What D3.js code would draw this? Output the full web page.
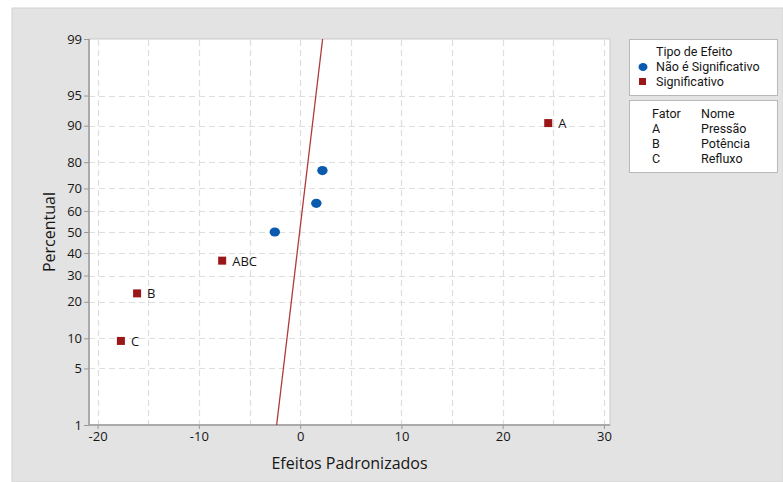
<!DOCTYPE html>
<html>
<head>
<meta charset="utf-8">
<script src="https://cdn.jsdelivr.net/npm/d3@7"></script>
<style>
  html, body { margin: 0; padding: 0; background: #ffffff; }
  svg { display: block; font-family: "Open Sans", "Noto Sans", sans-serif; }
</style>
</head>
<body>
<svg id="chart" width="783" height="482"></svg>
<script>
// Standardized effects (normal probability plot)
const effectNames = ["C", "B", "ABC", "AC", "BC", "AB", "A"];
const effectValues = [-17.7, -16.1, -7.7, -2.5, 1.6, 2.2, 24.5];
const effectPercents = [9.46, 22.97, 36.49, 50.0, 63.51, 77.03, 90.54];
const effectSignificant = [true, true, true, false, false, false, true];

// Reference line endpoints (effect, percent)
const refEffects = [-2.32, 2.22];
const refPercents = [1, 99];

const xTicks = [-20, -10, 0, 10, 20, 30];
const xGrid = [-20, -15, -10, -5, 0, 5, 10, 15, 20, 25, 30];
const yTicks = [1, 5, 10, 20, 30, 40, 50, 60, 70, 80, 90, 95, 99];

const legendTitle = "Tipo de Efeito";
const legendTypes = ["Não é Significativo", "Significativo"];
const factorHeader = ["Fator", "Nome"];
const factorLetters = ["A", "B", "C"];
const factorNames = ["Pressão", "Potência", "Refluxo"];

// Inverse standard normal CDF (Acklam's approximation)
function probit(p) {
  const a = [-3.969683028665376e+01, 2.209460984245205e+02, -2.759285104469687e+02,
             1.383577518672690e+02, -3.066479806614716e+01, 2.506628277459239e+00];
  const b = [-5.447609879822406e+01, 1.615858368580409e+02, -1.556989798598866e+02,
             6.680131188771972e+01, -1.328068155288572e+01];
  const c = [-7.784894002430293e-03, -3.223964580411365e-01, -2.400758277161838e+00,
             -2.549732539343734e+00, 4.374664141464968e+00, 2.938163982698783e+00];
  const d = [7.784695709041462e-03, 3.224671290700398e-01, 2.445134137142996e+00,
             3.754408661907416e+00];
  const pl = 0.02425, ph = 1 - pl;
  let q, r;
  if (p < pl) {
    q = Math.sqrt(-2 * Math.log(p));
    return (((((c[0]*q+c[1])*q+c[2])*q+c[3])*q+c[4])*q+c[5]) /
           ((((d[0]*q+d[1])*q+d[2])*q+d[3])*q+1);
  } else if (p <= ph) {
    q = p - 0.5; r = q*q;
    return (((((a[0]*r+a[1])*r+a[2])*r+a[3])*r+a[4])*r+a[5])*q /
           (((((b[0]*r+b[1])*r+b[2])*r+b[3])*r+b[4])*r+1);
  } else {
    q = Math.sqrt(-2 * Math.log(1 - p));
    return -(((((c[0]*q+c[1])*q+c[2])*q+c[3])*q+c[4])*q+c[5]) /
            ((((d[0]*q+d[1])*q+d[2])*q+d[3])*q+1);
  }
}

const svg = d3.select("#chart");
const ink = "#161616";

// outer panel
svg.append("rect").attr("x", 12).attr("y", 8).attr("width", 771).attr("height", 474)
  .attr("fill", "#e3e3e3").attr("stroke", "#d4d4d4").attr("stroke-width", 1);

const plot = { left: 89, right: 610, top: 39, bottom: 425 };

const x = d3.scaleLinear().domain([-20.85, 30.6]).range([plot.left, plot.right]);
const zScale = d3.scaleLinear().domain([probit(0.01), probit(0.99)]).range([plot.bottom, plot.top]);
const y = pct => zScale(probit(pct / 100));

// plot background
svg.append("rect").attr("x", plot.left).attr("y", plot.top)
  .attr("width", plot.right - plot.left).attr("height", plot.bottom - plot.top)
  .attr("fill", "#ffffff").attr("stroke", "#c8c8c8");

// grid
const grid = svg.append("g").attr("stroke", "#dedede").attr("stroke-width", 1.2)
  .attr("stroke-dasharray", "6,4");
grid.selectAll("line.v").data(xGrid).join("line")
  .attr("x1", d => Math.round(x(d)) + 0.5).attr("x2", d => Math.round(x(d)) + 0.5)
  .attr("y1", plot.top + 1).attr("y2", plot.bottom);
grid.selectAll("line.h").data(yTicks.filter(t => t !== 1 && t !== 99)).join("line")
  .attr("y1", d => Math.round(y(d)) + 0.5).attr("y2", d => Math.round(y(d)) + 0.5)
  .attr("x1", plot.left).attr("x2", plot.right - 1);

// axes
const xAxis = d3.axisBottom(x).tickValues(xTicks).tickSize(4).tickPadding(3)
  .tickFormat(d => String(d));
const gx = svg.append("g").attr("transform", `translate(0,${plot.bottom})`).call(xAxis);
const yAxis = d3.axisLeft(zScale).tickValues(yTicks.map(t => probit(t / 100)))
  .tickSize(5).tickPadding(2).tickFormat((d, i) => String(yTicks[i]));
const gy = svg.append("g").attr("transform", `translate(${plot.left},0)`).call(yAxis);
[gx, gy].forEach(g => {
  g.select(".domain").attr("stroke", "#9a9a9a").attr("stroke-width", 1.5);
  g.selectAll(".tick line").attr("stroke", "#9a9a9a");
  g.selectAll(".tick text").attr("fill", ink).style("font-size", "13px")
    .style("font-family", "'Open Sans', sans-serif");
});
gx.select(".domain").attr("d", `M${plot.left},0H${plot.right}`);
gy.select(".domain").attr("d", `M0,${plot.bottom}V${plot.top}`);

// axis titles
svg.append("text").attr("x", (plot.left + plot.right) / 2).attr("y", 469)
  .attr("text-anchor", "middle").attr("fill", ink).style("font-size", "16px")
  .text("Efeitos Padronizados");
svg.append("text").attr("transform", `translate(55,${(plot.top + plot.bottom) / 2}) rotate(-90)`)
  .attr("text-anchor", "middle").attr("fill", ink).style("font-size", "16px")
  .text("Percentual");

// reference line
svg.append("line")
  .attr("x1", x(refEffects[0])).attr("y1", y(refPercents[0]))
  .attr("x2", x(refEffects[1])).attr("y2", y(refPercents[1]))
  .attr("stroke", "#b03a3a").attr("stroke-width", 1.3);

// effect points
const effects = effectNames.map((n, i) => ({
  name: n, value: effectValues[i], pct: effectPercents[i], sig: effectSignificant[i]
}));
const blue = "#0a5aae", red = "#9b1717";
svg.selectAll("rect.sig").data(effects.filter(d => d.sig)).join("rect")
  .attr("x", d => x(d.value) - 4).attr("y", d => y(d.pct) - 4)
  .attr("width", 8).attr("height", 8).attr("fill", red);
svg.selectAll("ellipse.ns").data(effects.filter(d => !d.sig)).join("ellipse")
  .attr("cx", d => x(d.value)).attr("cy", d => y(d.pct))
  .attr("rx", 5.2).attr("ry", 4.6).attr("fill", blue);
svg.selectAll("text.lbl").data(effects.filter(d => d.sig)).join("text")
  .attr("x", d => x(d.value) + 10).attr("y", d => y(d.pct) + 5)
  .attr("fill", ink).style("font-size", "13px").text(d => d.name);

// legends
const lg = svg.append("g").style("font-size", "12.5px")
  .style("font-family", "Roboto, 'Open Sans', sans-serif").attr("fill", ink);

// effect type
lg.append("rect").attr("x", 629.5).attr("y", 39.5).attr("width", 148).attr("height", 56)
  .attr("fill", "#ffffff").attr("stroke", "#b8b8b8");
lg.append("text").attr("x", 656).attr("y", 56).text(legendTitle);
legendTypes.forEach((t, i) => {
  const cy = 68 + i * 15;
  if (i === 0) {
    lg.append("ellipse").attr("cx", 643).attr("cy", cy - 1).attr("rx", 4.5).attr("ry", 4).attr("fill", blue);
  } else {
    lg.append("rect").attr("x", 639).attr("y", cy - 5).attr("width", 7).attr("height", 7).attr("fill", red);
  }
  lg.append("text").attr("x", 656).attr("y", cy + 3).text(t);
});

// factor names
lg.append("rect").attr("x", 629.5).attr("y", 100.5).attr("width", 148).attr("height", 72)
  .attr("fill", "#ffffff").attr("stroke", "#b8b8b8");
lg.append("text").attr("x", 652).attr("y", 118).text(factorHeader[0]);
lg.append("text").attr("x", 701).attr("y", 118).text(factorHeader[1]);
factorLetters.forEach((f, i) => {
  const ty = 133 + i * 15;
  lg.append("text").attr("x", 652).attr("y", ty).text(f);
  lg.append("text").attr("x", 701).attr("y", ty).text(factorNames[i]);
});
</script>
</body>
</html>
